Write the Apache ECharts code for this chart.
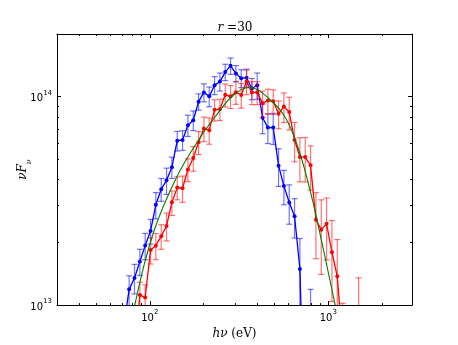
<!DOCTYPE html>
<html>
<head>
<meta charset="utf-8">
<script src="https://cdn.jsdelivr.net/npm/echarts@6/dist/echarts.min.js"></script>
<style>
  html, body { margin: 0; padding: 0; background: #fff; }
  #chart { width: 458px; height: 345px; }
</style>
</head>
<body>
<div id="chart"></div>
<script>
// photon energy of each bin (eV)
var energy = [71.6, 76.6, 82.1, 88.0, 94.2, 101.0, 108.1, 115.9, 124.1, 133.0,
  142.5, 152.6, 163.5, 175.2, 187.7, 201.0, 215.3, 230.7, 247.1, 264.7,
  283.6, 303.8, 325.4, 348.6, 373.4, 400.0, 428.5, 459.0, 491.7, 526.8,
  564.3, 604.5, 647.5, 693.7, 743.1, 796.0, 853.1, 913.9, 979.0, 1048.8,
  1123.5, 1203.6, 1289.4, 1381.3, 1479.8];

// blue spectrum (nuFnu) and its relative error
var blueFlux = [8.0e12, 1.19e13, 1.35e13, 1.62e13, 1.93e13, 2.27e13, 3.03e13, 3.60e13, 3.97e13, 4.59e13,
  6.15e13, 6.20e13, 7.30e13, 7.71e13, 9.47e13, 1.049e14, 1.004e14, 1.136e14, 1.182e14, 1.313e14,
  1.407e14, 1.294e14, 1.226e14, 1.234e14, 1.095e14, 1.136e14, 7.93e13, 7.11e13, 7.11e13, 4.67e13,
  3.73e13, 3.11e13, 2.67e13, 1.49e13, 2.0e12, 6.8e12, null, null, null, null,
  null, null, null, null, null];
var blueErr = [0.2, 0.162, 0.162, 0.144, 0.144, 0.135, 0.144, 0.126, 0.144, 0.117,
  0.108, 0.108, 0.117, 0.108, 0.09, 0.099, 0.108, 0.099, 0.099, 0.09,
  0.09, 0.09, 0.099, 0.099, 0.117, 0.144, 0.162, 0.162, 0.17, 0.205,
  0.188, 0.214, 0.214, 0.4, 0.5, 0.75, null, null, null, null,
  null, null, null, null, null];

// red spectrum (nuFnu) and its relative error
var redFlux = [null, null, 6.0e12, 1.119e13, 1.087e13, 1.839e13, 1.928e13, 2.142e13, 2.397e13, 3.112e13,
  3.663e13, 3.637e13, 4.473e13, 5.077e13, 6.042e13, 7.037e13, 6.911e13, 8.652e13, 8.716e13, 1.022e14,
  1.004e14, 1.052e14, 1.019e14, 1.182e14, 1.049e14, 1.049e14, 9.304e13, 9.579e13, 9.508e13, 8.286e13,
  8.974e13, 8.436e13, 6.197e13, 5.132e13, 5.132e13, 4.686e13, 2.567e13, 2.302e13, 2.457e13, 1.793e13,
  1.375e13, 6.5e12, 4.0e12, 3.0e12, 7.0e12];
var redErr = [null, null, 0.2, 0.15, 0.15, 0.144, 0.144, 0.135, 0.153, 0.135,
  0.126, 0.144, 0.126, 0.135, 0.126, 0.135, 0.144, 0.117, 0.117, 0.126,
  0.126, 0.126, 0.135, 0.135, 0.126, 0.126, 0.144, 0.135, 0.135, 0.153,
  0.162, 0.179, 0.214, 0.24, 0.24, 0.24, 0.35, 0.39, 0.33, 0.42,
  0.5, 0.57, 0.5, 0.5, 0.93];

// green fitted curve
var fitEnergy = [82.4, 104.4, 140.9, 190.3, 235.7, 292.2, 362.0, 468.1, 580.0, 688.7, 800.6, 890.8, 1094];
var fitFlux = [1.0e13, 2.207e13, 4.083e13, 6.31e13, 8.135e13, 1.011e14, 1.107e14, 9.755e13, 7.846e13, 5.458e13, 3.406e13, 2.286e13, 1.0e13];

// ticks
var xMajor = [100, 1000];
var xMinor = [40, 50, 60, 70, 80, 90, 200, 300, 400, 500, 600, 700, 800, 900, 2000];
var yMajor = [1e13, 1e14];
var yMinor = [2e13, 3e13, 4e13, 5e13, 6e13, 7e13, 8e13, 9e13];

var X_MIN = 30.2, X_MAX = 2947, Y_MIN = 1e13, Y_MAX = 2e14;

function pairs(xs, ys) {
  var out = [];
  for (var i = 0; i < xs.length; i++) out.push([xs[i], ys[i]]);
  return out;
}

function errData(vals, errs) {
  var out = [];
  for (var i = 0; i < energy.length; i++) {
    if (vals[i] != null && errs[i] != null) out.push([energy[i], vals[i], errs[i]]);
  }
  return out;
}

// vertical error bar with caps, clipped to the plot box
function errRender(color) {
  return function (params, api) {
    var x = api.value(0), y = api.value(1), s = api.value(2);
    var top = api.coord([x, y * (1 + s)]);
    var bot = api.coord([x, Math.max(y * (1 - s), 1e10)]);
    var cs = params.coordSys;
    var y0 = Math.max(top[1], cs.y), y1 = Math.min(bot[1], cs.y + cs.height);
    if (y0 >= y1) return;
    var px = top[0], w = 3;
    var st = { stroke: color, lineWidth: 1.2 };
    var kids = [{ type: 'line', shape: { x1: px, y1: y0, x2: px, y2: y1 }, style: st }];
    if (top[1] >= cs.y) kids.push({ type: 'line', shape: { x1: px - w, y1: top[1], x2: px + w, y2: top[1] }, style: st });
    if (bot[1] <= cs.y + cs.height) kids.push({ type: 'line', shape: { x1: px - w, y1: bot[1], x2: px + w, y2: bot[1] }, style: st });
    return { type: 'group', children: kids };
  };
}

function supLabel(v) {
  return '{b|10}{s|' + Math.round(Math.log10(v)) + '}';
}
var labelRich = {
  b: { fontFamily: 'DejaVu Sans', fontSize: 10, color: '#000', verticalAlign: 'bottom', lineHeight: 14 },
  s: { fontFamily: 'DejaVu Sans', fontSize: 7, color: '#000', verticalAlign: 'top', lineHeight: 9 }
};

function axisPart(dim, pos, ticks, len, main) {
  return {
    type: 'log', logBase: 10, position: pos, gridIndex: 0,
    min: dim === 'x' ? X_MIN : Y_MIN,
    max: dim === 'x' ? X_MAX : Y_MAX,
    axisLine: { show: main, onZero: false, lineStyle: { color: '#000', width: 1 } },
    axisTick: { show: true, inside: true, length: len, customValues: ticks, lineStyle: { color: '#000', width: 1 } },
    axisLabel: { show: false },
    splitLine: { show: false }
  };
}

var xBottom = axisPart('x', 'bottom', xMajor, 4, true);
xBottom.axisLabel = { show: true, customValues: xMajor, margin: 4, formatter: supLabel, rich: labelRich };
xBottom.name = '{i|h\u03bd} (eV)';
xBottom.nameLocation = 'middle';
xBottom.nameGap = 17;
xBottom.nameTextStyle = {
  fontFamily: 'DejaVu Serif', fontSize: 12, color: '#000',
  rich: { i: { fontFamily: 'DejaVu Serif', fontStyle: 'italic', fontSize: 12, color: '#000' } }
};

var yLeft = axisPart('y', 'left', yMajor, 4, true);
yLeft.axisLabel = { show: true, customValues: yMajor, margin: 5, formatter: supLabel, rich: labelRich };
yLeft.name = '{i|\u03bdF}{u|\u03bd}';
yLeft.nameLocation = 'middle';
yLeft.nameRotate = 90;
yLeft.nameGap = 24;
yLeft.nameMoveOverlap = false;
yLeft.nameTextStyle = {
  color: '#000',
  rich: {
    i: { fontFamily: 'DejaVu Serif', fontStyle: 'italic', fontSize: 12, color: '#000', verticalAlign: 'top', lineHeight: 16 },
    u: { fontFamily: 'DejaVu Serif', fontStyle: 'italic', fontSize: 8, color: '#000', verticalAlign: 'bottom', lineHeight: 16 }
  }
};

var option = {
  animation: false,
  backgroundColor: '#fff',
  grid: { left: 57, top: 34, width: 355, height: 275, containLabel: false },
  graphic: [{
    type: 'text', x: 235, y: 28,
    style: {
      text: '{i|r} =30', align: 'center', verticalAlign: 'middle',
      fontFamily: 'DejaVu Serif', fontSize: 12, fill: '#000',
      rich: { i: { fontFamily: 'DejaVu Serif', fontStyle: 'italic', fontSize: 12 } }
    }
  }],
  xAxis: [
    xBottom,
    axisPart('x', 'bottom', xMinor, 2, false),
    axisPart('x', 'top', xMajor, 4, true),
    axisPart('x', 'top', xMinor, 2, false)
  ],
  yAxis: [
    yLeft,
    axisPart('y', 'left', yMinor, 2, false),
    axisPart('y', 'right', yMajor, 4, true),
    axisPart('y', 'right', yMinor, 2, false)
  ],
  series: [
    {
      type: 'custom', name: 'blue err', renderItem: errRender('rgba(0,0,255,0.55)'),
      data: errData(blueFlux, blueErr), encode: { x: 0, y: 1 }, z: 1
    },
    {
      type: 'line', name: 'blue', data: pairs(energy, blueFlux), connectNulls: false,
      symbol: 'circle', symbolSize: 4, clip: true,
      lineStyle: { color: '#0000ff', width: 1.3 }, itemStyle: { color: '#0000ff' }, z: 2
    },
    {
      type: 'custom', name: 'red err', renderItem: errRender('rgba(255,0,0,0.55)'),
      data: errData(redFlux, redErr), encode: { x: 0, y: 1 }, z: 3
    },
    {
      type: 'line', name: 'red', data: pairs(energy, redFlux), connectNulls: false,
      symbol: 'circle', symbolSize: 4, clip: true,
      lineStyle: { color: '#ff0000', width: 1.3 }, itemStyle: { color: '#ff0000' }, z: 4
    },
    {
      type: 'line', name: 'fit', data: pairs(fitEnergy, fitFlux), smooth: 0.4,
      showSymbol: false, clip: true,
      lineStyle: { color: '#008000', width: 1.1 }, z: 5
    }
  ]
};

var chart = echarts.init(document.getElementById('chart'), null, { renderer: 'canvas' });
chart.setOption(option);
</script>
</body>
</html>
